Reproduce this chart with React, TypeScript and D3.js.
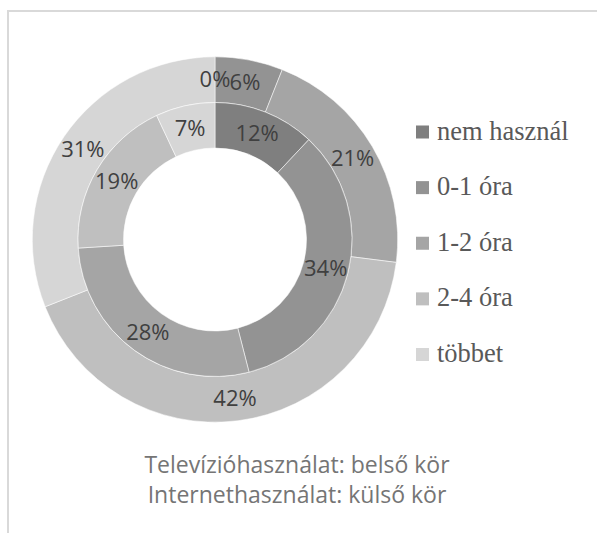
import React from "react";
import * as d3 from "d3";

const categories = ["nem használ", "0-1 óra", "1-2 óra", "2-4 óra", "többet"];
const tvValues = [12, 34, 28, 19, 7];
const internetValues = [0, 6, 21, 42, 31];
const colors = ["#7f7f7f", "#939393", "#a5a5a5", "#bfbfbf", "#d6d6d6"];
const captionLines = ["Televízióhasználat: belső kör", "Internethasználat: külső kör"];

const W = 597;
const H = 533;
const cx = 215;
const cy = 239.5;
const rHole = 91.5;
const rMid = 137;
const rOuter = 182.7;

export default function App() {
  const pie = d3
    .pie<number>()
    .sort(null)
    .value((d) => d)
    .startAngle(0)
    .endAngle(2 * Math.PI);

  const innerArc = d3.arc<d3.PieArcDatum<number>>().innerRadius(rHole).outerRadius(rMid);
  const outerArc = d3.arc<d3.PieArcDatum<number>>().innerRadius(rMid).outerRadius(rOuter);

  const tvPie = pie(tvValues);
  const netPie = pie(internetValues);

  const legendY = d3.scalePoint<string>().domain(categories).range([139.5, 362]);

  return (
    <svg width={W} height={H} style={{ position: "absolute", left: 0, top: 0 }}>
      <rect x={0} y={0} width={W} height={H} fill="#fff" />
      <rect x={8} y={11} width={W + 20} height={H + 20} fill="#fff" stroke="#d9d9d9" strokeWidth={2} />
      <g transform={`translate(${cx},${cy})`}>
        {netPie.map((d, i) => (
          <path key={"o" + i} d={outerArc(d) || ""} fill={colors[i]} stroke="#ffffff" strokeOpacity={0.7} strokeWidth={0.75} />
        ))}
        {tvPie.map((d, i) => (
          <path key={"i" + i} d={innerArc(d) || ""} fill={colors[i]} stroke="#ffffff" strokeOpacity={0.7} strokeWidth={0.75} />
        ))}
        {netPie.map((d, i) => {
          const [x, y] = outerArc.centroid(d);
          return (
            <text key={"ol" + i} x={x} y={y} dy="0.35em" textAnchor="middle" fontFamily="'Open Sans'" fontSize={22} fill="#404040">
              {internetValues[i]}%
            </text>
          );
        })}
        {tvPie.map((d, i) => {
          const [x, y] = innerArc.centroid(d);
          return (
            <text key={"il" + i} x={x} y={y} dy="0.35em" textAnchor="middle" fontFamily="'Open Sans'" fontSize={22} fill="#404040">
              {tvValues[i]}%
            </text>
          );
        })}
      </g>
      {categories.map((c, i) => {
        const by = legendY(c) as number;
        return (
          <g key={"lg" + i}>
            <rect x={416} y={by - 14} width={13} height={13} fill={colors[i]} />
            <text x={437} y={by} fontFamily="'Liberation Serif'" fontSize={26.5} fill="#595959">
              {c}
            </text>
          </g>
        );
      })}
      {captionLines.map((t, i) => (
        <text key={"c" + i} x={297} y={473 + i * 30} textAnchor="middle" fontFamily="'Open Sans'" fontSize={23} fill="#757575">
          {t}
        </text>
      ))}
    </svg>
  );
}
